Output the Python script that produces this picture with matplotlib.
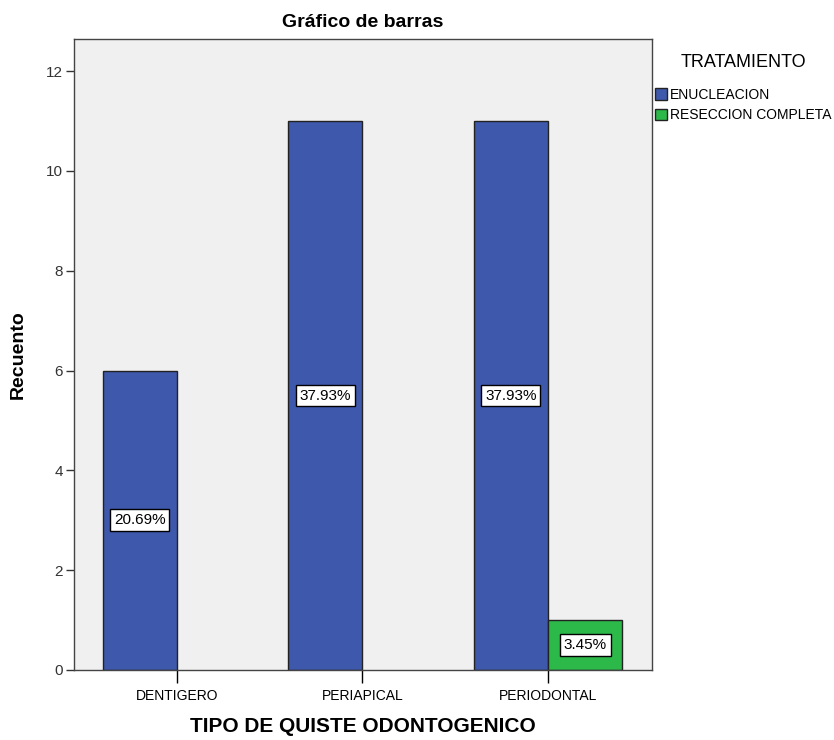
import matplotlib.pyplot as plt
import numpy as np

plt.rcParams['font.family'] = ['Liberation Sans', 'DejaVu Sans']

categorias = ['DENTIGERO', 'PERIAPICAL', 'PERIODONTAL']
enucleacion = [6, 11, 11]
reseccion = [0, 0, 1]
pct_enucleacion = ['20.69%', '37.93%', '37.93%']
pct_reseccion = ['', '', '3.45%']

azul = '#3e58ac'
verde = '#2db84a'

fig = plt.figure(figsize=(8.34, 7.4), dpi=100)
ax = fig.add_axes([0.0887, 0.0946, 0.693, 0.8524])
ax.set_facecolor('#f0f0f0')

x = np.arange(len(categorias))
w = 0.4
# en SPSS las barras con recuento 0 no se dibujan
lw1 = [1 if v > 0 else 0 for v in enucleacion]
lw2 = [1 if v > 0 else 0 for v in reseccion]
ax.bar(x - w / 2, enucleacion, w, color=azul, edgecolor='#222222', linewidth=lw1, label='ENUCLEACION')
ax.bar(x + w / 2, reseccion, w, color=verde, edgecolor='#222222', linewidth=lw2, label='RESECCION COMPLETA')

caja = dict(boxstyle='square,pad=0.25', facecolor='white', edgecolor='black', linewidth=1)
for i in range(len(categorias)):
    if enucleacion[i] > 0:
        ax.text(x[i] - w / 2, enucleacion[i] / 2, pct_enucleacion[i], ha='center', va='center',
                fontsize=11, bbox=caja)
    if reseccion[i] > 0:
        ax.text(x[i] + w / 2, reseccion[i] / 2, pct_reseccion[i], ha='center', va='center',
                fontsize=11, bbox=caja)

ax.set_xlim(-0.555, 2.56)
ax.set_ylim(0, 12.64)
ax.set_xticks(x)
ax.set_xticklabels(categorias, fontsize=10)
ax.set_yticks([0, 2, 4, 6, 8, 10, 12])
ax.tick_params(axis='y', direction='out', length=6, width=1, labelsize=11, colors='#333333', pad=2)
ax.tick_params(axis='x', direction='out', length=9, width=1, labelsize=10, pad=5)
for s in ax.spines.values():
    s.set_color('#444444')
    s.set_linewidth(1)

ax.set_title('Gráfico de barras', fontsize=14, fontweight='bold', pad=9)
ax.set_ylabel('Recuento', fontsize=14, fontweight='bold', labelpad=14)
ax.set_xlabel('TIPO DE QUISTE ODONTOGENICO', fontsize=15, fontweight='bold', labelpad=10)

leg = ax.legend(loc='upper left', bbox_to_anchor=(0.995, 0.985), frameon=False, fontsize=10,
                title='TRATAMIENTO', title_fontsize=13, handlelength=0.9, handleheight=0.9,
                handletextpad=0.2, borderaxespad=0, labelspacing=0.45)
leg._legend_box.sep = 12
for h in leg.legend_handles:
    h.set_edgecolor('#222222')
    h.set_linewidth(1)

fig.savefig('out.png', dpi=100)
